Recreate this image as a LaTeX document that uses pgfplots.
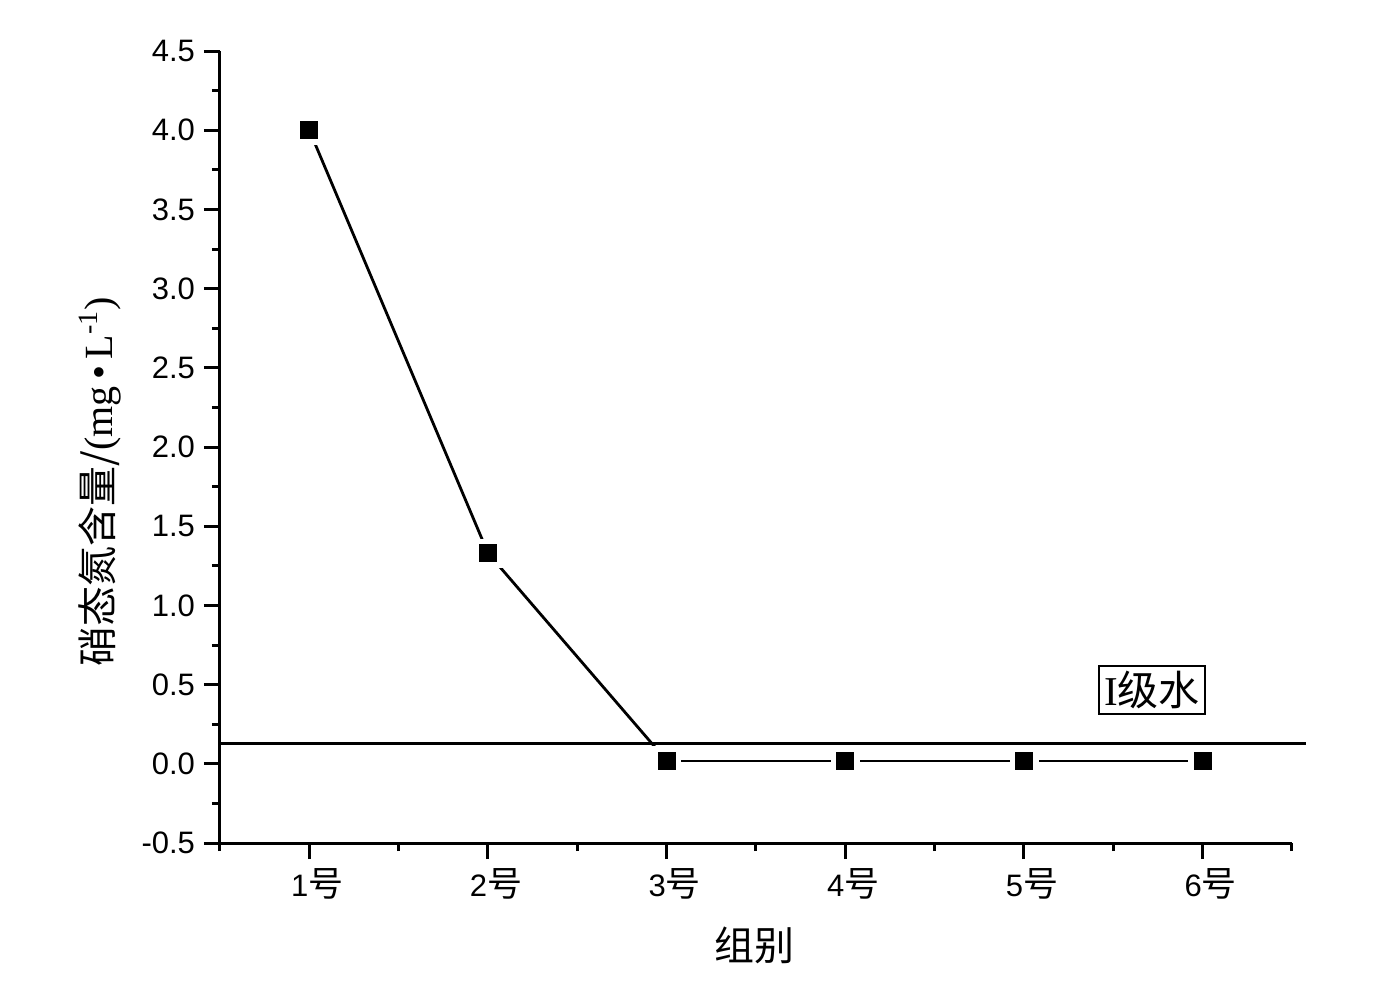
\documentclass[border=0pt]{standalone}
\usepackage{fontspec}
\usepackage{pgfplots}
\pgfplotsset{compat=1.18}
\setmainfont{Liberation Sans}
\newfontfamily\cjk{Noto Sans CJK SC}
\newfontfamily\serif{Liberation Serif}
\newcommand{\hao}{{\cjk\fontsize{17.5}{18}\selectfont 号}}
\begin{document}
\begin{tikzpicture}
\begin{axis}[
  scale only axis, width=536pt, height=396pt,
  xmin=0.5, xmax=6.5, ymin=-0.5, ymax=4.5,
  axis x line*=bottom, axis y line*=left,
  axis line style={line width=1.5pt,-},
  xtick={1,2,3,4,5,6},
  xticklabels={1\hao,2\hao,3\hao,4\hao,5\hao,6\hao},
  minor xtick={0.5,1.5,2.5,3.5,4.5,5.5,6.5},
  ytick={-0.5,0,0.5,1,1.5,2,2.5,3,3.5,4,4.5},
  yticklabels={-0.5,0.0,0.5,1.0,1.5,2.0,2.5,3.0,3.5,4.0,4.5},
  minor ytick={-0.25,0.25,0.75,1.25,1.75,2.25,2.75,3.25,3.75,4.25},
  tick align=outside,
  major tick length=8pt, minor tick length=4pt,
  every tick/.style={black, line width=1.5pt},
  tick label style={font=\fontsize{15.5}{17}\selectfont},
  xticklabel style={xshift=4pt, yshift=-1pt},
  yticklabel style={xshift=-1pt},
  xlabel={\cjk 组别},
  xlabel style={at={(axis description cs:0.499,-0.129)}, anchor=center, font=\fontsize{20}{22}\selectfont},
  ylabel={{\cjk 硝态氮含量/}{\serif (mg\,•\,L\textsuperscript{-1})}},
  ylabel style={at={(axis description cs:-0.112,0.456)}, anchor=center, font=\fontsize{20}{22}\selectfont},
  clip=false,
]
\addplot[black, line width=1.4pt, mark=none] coordinates {(1,4.0) (2,1.33) (3,0.02)};
\addplot[black, line width=0.9pt, mark=none] coordinates {(3,0.02) (4,0.02) (5,0.02) (6,0.02)};
\addplot[white, only marks, mark=square*, mark size=7pt, mark options={draw=white, fill=white}] coordinates {(1,4.0) (2,1.33) (3,0.02) (4,0.02) (5,0.02) (6,0.02)};
\addplot[black, only marks, mark=square*, mark size=4.25pt, mark options={draw=black, fill=black}] coordinates {(1,4.0) (2,1.33) (3,0.02) (4,0.02) (5,0.02) (6,0.02)};
\addplot[black, line width=1.3pt, mark=none] coordinates {(0.5,0.13) (6.58,0.13)};
\node[draw, line width=0.8pt, inner sep=2.5pt, font=\fontsize{20.5}{22}\selectfont] at (axis cs:5.717,0.466) {{\serif I}{\cjk 级水}};
\end{axis}
\path[use as bounding box] ([shift={(-110pt,-74.5pt)}]current axis.south west) rectangle ++(697pt,496pt);
\end{tikzpicture}
\end{document}
